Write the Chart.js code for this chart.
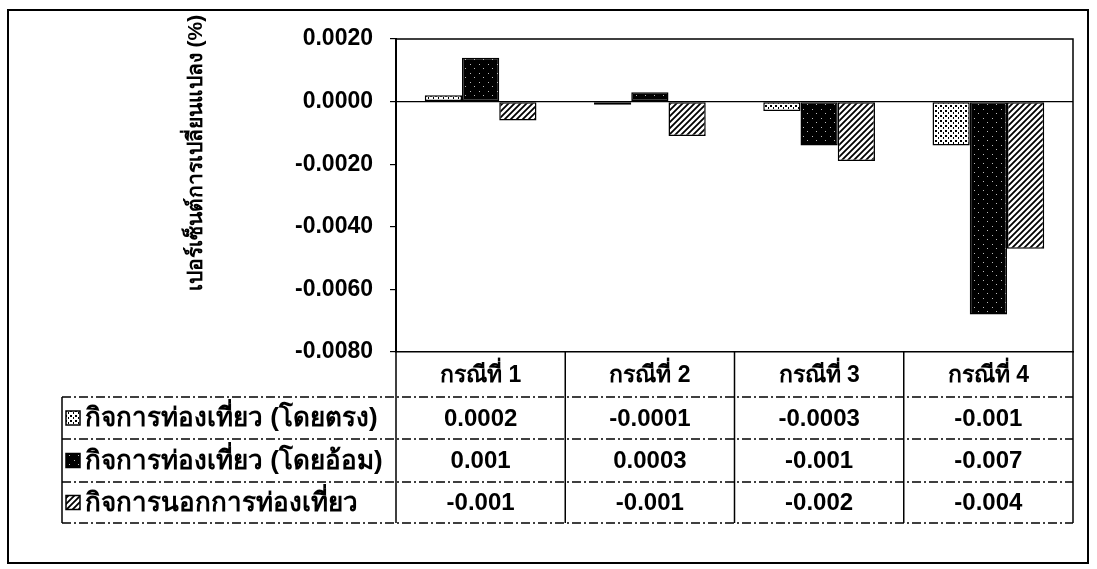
<!DOCTYPE html>
<html>
<head>
<meta charset="utf-8">
<script src="https://cdn.jsdelivr.net/npm/chart.js@4"></script>
<style>
  html, body { margin: 0; padding: 0; background: #fff; }
  #wrap { width: 1097px; height: 569px; position: relative; }
</style>
</head>
<body>
<div id="wrap"><canvas id="chart"></canvas></div>
<script>
const categories = ["กรณีที่ 1", "กรณีที่ 2", "กรณีที่ 3", "กรณีที่ 4"];
const seriesNames = [
  "กิจการท่องเที่ยว (โดยตรง)",
  "กิจการท่องเที่ยว (โดยอ้อม)",
  "กิจการนอกการท่องเที่ยว"
];
const directValues = [0.0002, -0.0001, -0.0003, -0.0014];
const indirectValues = [0.0014, 0.0003, -0.0014, -0.0068];
const otherValues = [-0.0006, -0.0011, -0.0019, -0.0047];
// numbers as printed in the data table
const directText = ["0.0002", "-0.0001", "-0.0003", "-0.001"];
const indirectText = ["0.001", "0.0003", "-0.001", "-0.007"];
const otherText = ["-0.001", "-0.001", "-0.002", "-0.004"];
const yTitle = "เปอร์เซ็นต์การเปลี่ยนแปลง (%)";

const FONT = "'Liberation Sans', 'DejaVu Sans', sans-serif";

function makePattern(kind) {
  const c = document.createElement("canvas");
  const g = c.getContext("2d");
  if (kind === "dots") {
    c.width = 5; c.height = 5;
    g.fillStyle = "#fff"; g.fillRect(0, 0, 5, 5);
    g.fillStyle = "#000";
    g.fillRect(0, 0, 2, 2); g.fillRect(3, 2, 1, 2);
  } else if (kind === "dark") {
    c.width = 9; c.height = 9;
    g.fillStyle = "#000"; g.fillRect(0, 0, 9, 9);
    g.fillStyle = "#bbb";
    g.fillRect(2, 1, 1, 1); g.fillRect(6, 5, 1, 1);
  } else {
    c.width = 6; c.height = 6;
    g.fillStyle = "#fff"; g.fillRect(0, 0, 6, 6);
    g.strokeStyle = "#000"; g.lineWidth = 1.8;
    g.beginPath();
    g.moveTo(-1, 7); g.lineTo(7, -1);
    g.moveTo(-4, 4); g.lineTo(4, -4);
    g.moveTo(2, 10); g.lineTo(10, 2);
    g.stroke();
  }
  return g.createPattern(c, "repeat");
}

const patterns = [makePattern("dots"), makePattern("dark"), makePattern("hatch")];

// outer frame, plot frame, axis title and data table
const tablePlugin = {
  id: "tablePlugin",
  afterDraw(chart) {
    const ctx = chart.ctx;
    const area = chart.chartArea;
    const xs = chart.scales.x;
    const colW = xs.width / categories.length;
    const headerBottom = 397;
    const rowLines = [headerBottom, 439, 482, 523];
    const legendLeft = 62;
    const rows = [directText, indirectText, otherText];

    ctx.save();
    ctx.strokeStyle = "#000";

    // outer border
    ctx.lineWidth = 2;
    ctx.strokeRect(8, 10, 1080, 553);

    // plot area top and right
    ctx.lineWidth = 1.5;
    ctx.beginPath();
    ctx.moveTo(area.left, area.top);
    ctx.lineTo(area.right, area.top);
    ctx.lineTo(area.right, area.bottom);
    ctx.stroke();

    // table vertical lines
    ctx.beginPath();
    for (let i = 0; i <= categories.length; i++) {
      const x = area.left + i * colW;
      ctx.moveTo(x, area.bottom);
      ctx.lineTo(x, rowLines[3]);
    }
    ctx.moveTo(legendLeft, headerBottom);
    ctx.lineTo(legendLeft, rowLines[3]);
    ctx.stroke();

    // table horizontal lines (dashed like the scan)
    ctx.setLineDash([9, 3, 2, 3]);
    ctx.beginPath();
    rowLines.forEach(y => {
      ctx.moveTo(legendLeft, y);
      ctx.lineTo(area.right, y);
    });
    ctx.stroke();
    ctx.setLineDash([]);

    // header labels
    ctx.fillStyle = "#000";
    ctx.textAlign = "center";
    ctx.textBaseline = "middle";
    ctx.font = "bold 23px " + FONT;
    categories.forEach((c, i) => {
      ctx.fillText(c, xs.getPixelForValue(i), (area.bottom + headerBottom) / 2 + 1);
    });

    // values
    ctx.font = "bold 24px " + FONT;
    rows.forEach((row, r) => {
      const y = (rowLines[r] + rowLines[r + 1]) / 2 + 1;
      row.forEach((t, i) => ctx.fillText(t, xs.getPixelForValue(i), y));
    });

    // legend keys and names
    ctx.textAlign = "left";
    seriesNames.forEach((name, r) => {
      const y = (rowLines[r] + rowLines[r + 1]) / 2;
      ctx.fillStyle = patterns[r];
      ctx.fillRect(legendLeft + 4, y - 7, 14, 14);
      ctx.lineWidth = 1.5;
      ctx.strokeRect(legendLeft + 4, y - 7, 14, 14);
      ctx.fillStyle = "#000";
      ctx.font = "bold 26px " + FONT;
      ctx.fillText(name, legendLeft + 23, y + 1);
    });

    // y axis title
    ctx.translate(196, 153);
    ctx.rotate(-Math.PI / 2);
    ctx.textAlign = "center";
    ctx.font = "bold 21px " + FONT;
    ctx.fillText(yTitle, 0, 0);
    ctx.restore();
  }
};

new Chart(document.getElementById("chart"), {
  type: "bar",
  data: {
    labels: categories,
    datasets: [
      { label: seriesNames[0], data: directValues, backgroundColor: patterns[0] },
      { label: seriesNames[1], data: indirectValues, backgroundColor: patterns[1] },
      { label: seriesNames[2], data: otherValues, backgroundColor: patterns[2] }
    ].map(ds => Object.assign(ds, {
      borderColor: "#000",
      borderWidth: 1.5,
      borderSkipped: false,
      categoryPercentage: 0.66,
      barPercentage: 1.0
    }))
  },
  options: {
    responsive: true,
    maintainAspectRatio: false,
    animation: false,
    devicePixelRatio: 1,
    layout: { padding: { top: 39, right: 24, left: 0, bottom: 0 } },
    plugins: { legend: { display: false }, tooltip: { enabled: false } },
    scales: {
      x: {
        grid: { display: false },
        ticks: { display: false },
        border: { color: "#000", width: 1.5 },
        afterFit: s => { s.height = 569 - 352; }
      },
      y: {
        min: -0.008,
        max: 0.002,
        ticks: {
          stepSize: 0.002,
          color: "#000",
          padding: 17,
          font: { family: FONT, size: 23, weight: "bold" },
          callback: v => v.toFixed(4)
        },
        grid: {
          color: c => (Math.abs(c.tick.value) < 1e-9 ? "#000" : "rgba(0,0,0,0)"),
          lineWidth: 1.2,
          borderDash: [6, 3, 2, 3],
          tickColor: "#000",
          tickLength: 6,
          tickBorderDash: []
        },
        border: { color: "#000", width: 2 },
        afterFit: s => { s.width = 396; }
      }
    }
  },
  plugins: [tablePlugin]
});
</script>
</body>
</html>
